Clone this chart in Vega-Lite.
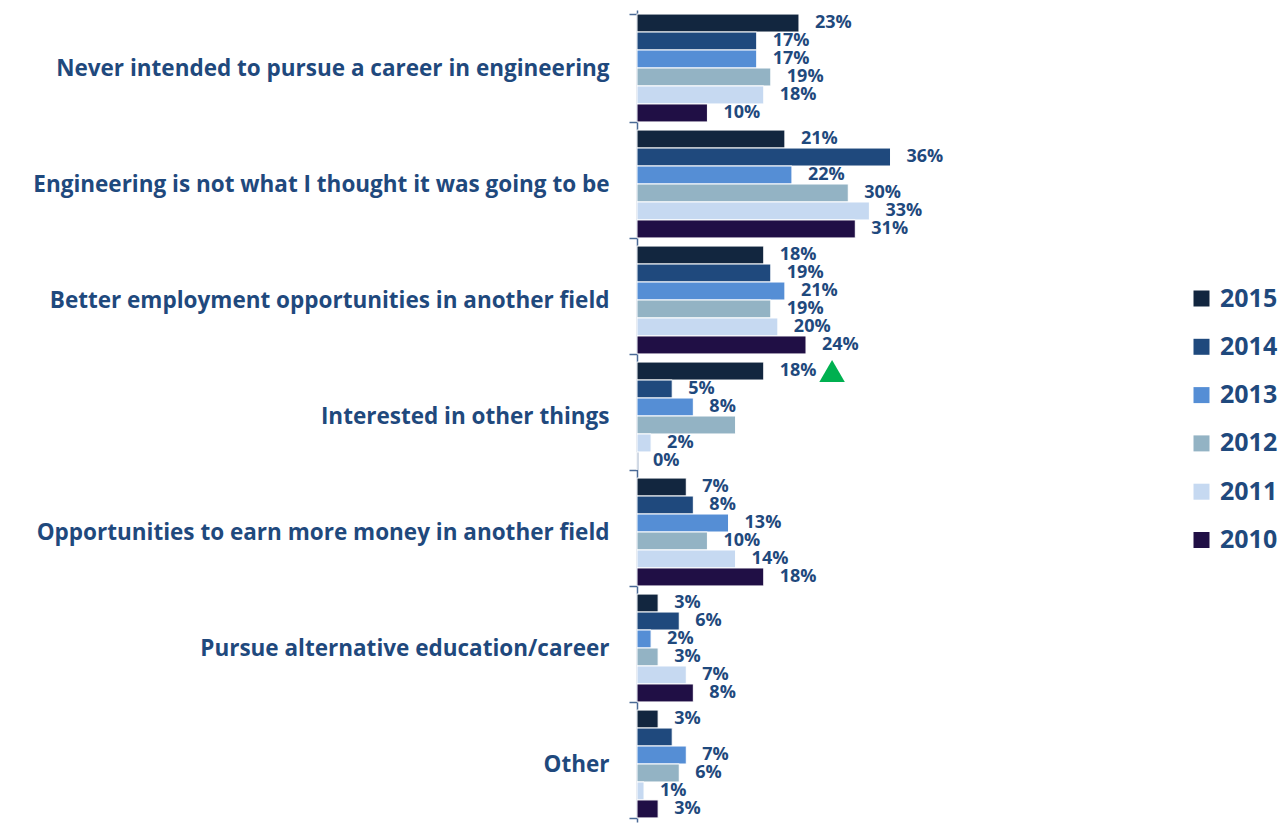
{
  "$schema": "https://vega.github.io/schema/vega-lite/v6.json",
  "width": 500,
  "height": 812,
  "autosize": {"type": "none"},
  "padding": {"left": 637, "top": 10, "right": 142, "bottom": 2},
  "config": {"view": {"stroke": null}, "font": "Open Sans"},
  "data": {
    "values": [
      {"category": "Never intended to pursue a career in engineering", "year": "2015", "value": 0.23, "label": "23%"},
      {"category": "Never intended to pursue a career in engineering", "year": "2014", "value": 0.17, "label": "17%"},
      {"category": "Never intended to pursue a career in engineering", "year": "2013", "value": 0.17, "label": "17%"},
      {"category": "Never intended to pursue a career in engineering", "year": "2012", "value": 0.19, "label": "19%"},
      {"category": "Never intended to pursue a career in engineering", "year": "2011", "value": 0.18, "label": "18%"},
      {"category": "Never intended to pursue a career in engineering", "year": "2010", "value": 0.10, "label": "10%"},
      {"category": "Engineering is not what I thought it was going to be", "year": "2015", "value": 0.21, "label": "21%"},
      {"category": "Engineering is not what I thought it was going to be", "year": "2014", "value": 0.36, "label": "36%"},
      {"category": "Engineering is not what I thought it was going to be", "year": "2013", "value": 0.22, "label": "22%"},
      {"category": "Engineering is not what I thought it was going to be", "year": "2012", "value": 0.30, "label": "30%"},
      {"category": "Engineering is not what I thought it was going to be", "year": "2011", "value": 0.33, "label": "33%"},
      {"category": "Engineering is not what I thought it was going to be", "year": "2010", "value": 0.31, "label": "31%"},
      {"category": "Better employment opportunities in another field", "year": "2015", "value": 0.18, "label": "18%"},
      {"category": "Better employment opportunities in another field", "year": "2014", "value": 0.19, "label": "19%"},
      {"category": "Better employment opportunities in another field", "year": "2013", "value": 0.21, "label": "21%"},
      {"category": "Better employment opportunities in another field", "year": "2012", "value": 0.19, "label": "19%"},
      {"category": "Better employment opportunities in another field", "year": "2011", "value": 0.20, "label": "20%"},
      {"category": "Better employment opportunities in another field", "year": "2010", "value": 0.24, "label": "24%"},
      {"category": "Interested in other things", "year": "2015", "value": 0.18, "label": "18%"},
      {"category": "Interested in other things", "year": "2014", "value": 0.05, "label": "5%"},
      {"category": "Interested in other things", "year": "2013", "value": 0.08, "label": "8%"},
      {"category": "Interested in other things", "year": "2012", "value": 0.14, "label": ""},
      {"category": "Interested in other things", "year": "2011", "value": 0.02, "label": "2%"},
      {"category": "Interested in other things", "year": "2010", "value": 0.00, "label": "0%"},
      {"category": "Opportunities to earn more money in another field", "year": "2015", "value": 0.07, "label": "7%"},
      {"category": "Opportunities to earn more money in another field", "year": "2014", "value": 0.08, "label": "8%"},
      {"category": "Opportunities to earn more money in another field", "year": "2013", "value": 0.13, "label": "13%"},
      {"category": "Opportunities to earn more money in another field", "year": "2012", "value": 0.10, "label": "10%"},
      {"category": "Opportunities to earn more money in another field", "year": "2011", "value": 0.14, "label": "14%"},
      {"category": "Opportunities to earn more money in another field", "year": "2010", "value": 0.18, "label": "18%"},
      {"category": "Pursue alternative education/career", "year": "2015", "value": 0.03, "label": "3%"},
      {"category": "Pursue alternative education/career", "year": "2014", "value": 0.06, "label": "6%"},
      {"category": "Pursue alternative education/career", "year": "2013", "value": 0.02, "label": "2%"},
      {"category": "Pursue alternative education/career", "year": "2012", "value": 0.03, "label": "3%"},
      {"category": "Pursue alternative education/career", "year": "2011", "value": 0.07, "label": "7%"},
      {"category": "Pursue alternative education/career", "year": "2010", "value": 0.08, "label": "8%"},
      {"category": "Other", "year": "2015", "value": 0.03, "label": "3%"},
      {"category": "Other", "year": "2014", "value": 0.05, "label": ""},
      {"category": "Other", "year": "2013", "value": 0.07, "label": "7%"},
      {"category": "Other", "year": "2012", "value": 0.06, "label": "6%"},
      {"category": "Other", "year": "2011", "value": 0.01, "label": "1%"},
      {"category": "Other", "year": "2010", "value": 0.03, "label": "3%"}
    ]
  },
  "encoding": {
    "y": {
      "field": "category", "type": "nominal",
      "sort": ["Never intended to pursue a career in engineering", "Engineering is not what I thought it was going to be", "Better employment opportunities in another field", "Interested in other things", "Opportunities to earn more money in another field", "Pursue alternative education/career", "Other"],
      "scale": {"paddingInner": 0.07, "paddingOuter": 0.035},
      "axis": {"title": null, "labelFontSize": 22.5, "labelFontWeight": "bold", "labelColor": "#1F497D", "labelPadding": 20, "labelLimit": 800, "tickBand": "extent", "tickSize": 8, "tickColor": "#4A6A96", "domainColor": "#4A6A96", "domainWidth": 1.5, "tickWidth": 1.5}
    },
    "yOffset": {
      "field": "year", "type": "nominal",
      "scale": {"domain": ["2015", "2014", "2013", "2012", "2011", "2010"], "paddingInner": 0, "paddingOuter": 0}
    },
    "x": {"field": "value", "type": "quantitative", "scale": {"domain": [0, 0.71]}, "axis": null}
  },
  "layer": [
    {
      "mark": {"type": "bar", "stroke": "#ffffff", "strokeWidth": 1},
      "encoding": {
        "color": {
          "field": "year", "type": "nominal",
          "scale": {"domain": ["2015", "2014", "2013", "2012", "2011", "2010"], "range": ["#12263F", "#1F497D", "#558ED5", "#93B3C4", "#C6D9F1", "#200F45"]},
          "legend": {"title": null, "orient": "none", "legendX": 552, "legendY": 276, "labelFontSize": 25, "labelFontWeight": "bold", "labelColor": "#1F497D", "symbolType": "square", "symbolSize": 256, "symbolStrokeWidth": 0, "rowPadding": 22.3, "labelOffset": 6}
        }
      }
    },
    {
      "mark": {"type": "text", "align": "left", "baseline": "middle", "dx": 16, "fontSize": 18, "fontWeight": "bold", "color": "#1F497D"},
      "encoding": {"text": {"field": "label"}}
    },
    {
      "data": {"values": [{"category": "Interested in other things", "year": "2015", "value": 0.277}]},
      "mark": {"type": "point", "shape": "triangle-up", "filled": true, "color": "#00B050", "opacity": 1, "size": 650},
      "encoding": {}
    }
  ]
}
